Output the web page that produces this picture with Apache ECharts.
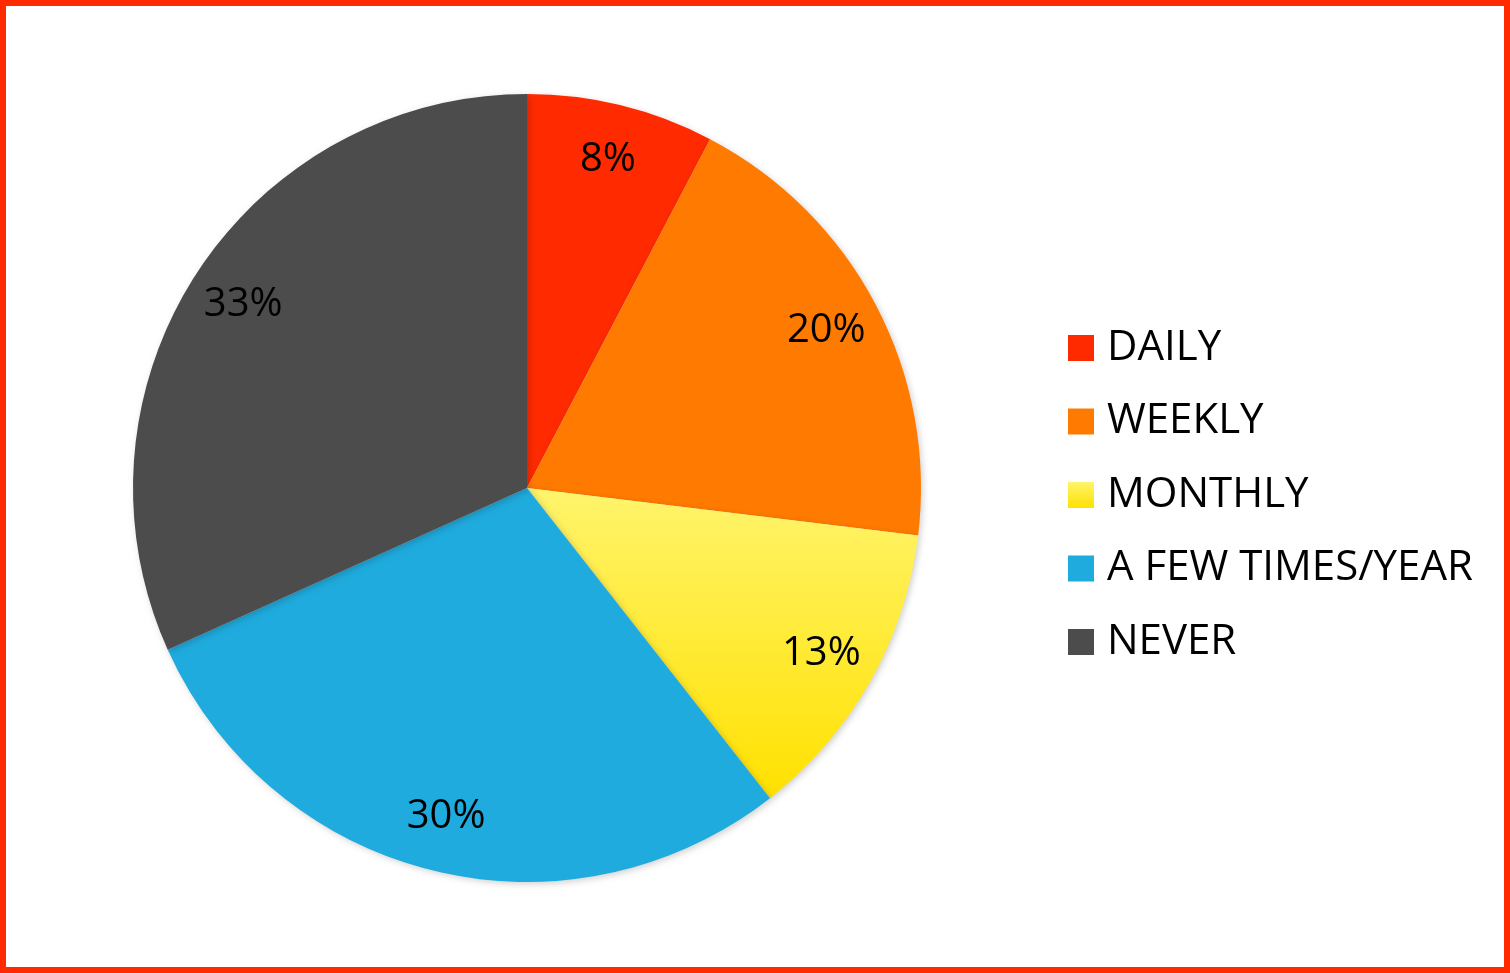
<!DOCTYPE html>
<html>
<head>
<meta charset="utf-8">
<script src="https://cdn.jsdelivr.net/npm/echarts@6/dist/echarts.min.js"></script>
<style>
	html, body { margin: 0; padding: 0; background: #fff; }
	#chart { position: absolute; left: 0; top: 0; width: 1510px; height: 973px; }
	#frame { position: absolute; left: 0; top: 0; width: 1510px; height: 973px; box-sizing: border-box; border: 6px solid #FF2A00; pointer-events: none; }
</style>
</head>
<body>
<div id="chart"></div>
<div id="frame"></div>
<script>
// 数据
var categories = ['DAILY', 'WEEKLY', 'MONTHLY', 'A FEW TIMES/YEAR', 'NEVER'];
var values = [8, 20, 13, 30, 33];
var colors = [
	'#FF2A00',
	'#FF7A00',
	new echarts.graphic.LinearGradient(0, 0, 0, 1, [
		{ offset: 0, color: '#FFF46C' },
		{ offset: 1, color: '#FFE100' }
	]),
	'#1FABDE',
	'#4C4C4C'
];

var pieData = categories.map(function(name, i) {
	return { name: name, value: values[i], itemStyle: { color: colors[i] } };
});
var labelData = categories.map(function(name, i) {
	return { name: name, value: values[i] };
});

var chart = echarts.init(document.getElementById('chart'));

var font = '"Open Sans", "Liberation Sans", sans-serif';

option = {
	animation: false,
	legend: {
		orient: 'vertical',
		left: 1068,
		top: 327,
		padding: 0,
		itemWidth: 26,
		itemHeight: 26,
		itemGap: 31.5,
		icon: 'rect',
		data: categories,
		textStyle: {
			fontFamily: font,
			fontSize: 42,
			lineHeight: 42,
			color: '#000',
			padding: [0, 0, 0, 8]
		}
	},
	series: [ {
		// 饼图本体
		name: 'freq',
		type: 'pie',
		center: [527, 488],
		radius: [0, 394],
		startAngle: 90,
		clockwise: true,
		silent: true,
		label: { show: false },
		labelLine: { show: false },
		itemStyle: {
			shadowBlur: 6,
			shadowColor: 'rgba(0,0,0,0.18)',
			shadowOffsetX: 2,
			shadowOffsetY: 2
		},
		data: pieData
	}, {
		// 只用来放百分比标签（靠外圈）
		name: 'labels',
		type: 'pie',
		center: [527, 488],
		radius: [276, 394],
		startAngle: 90,
		clockwise: true,
		silent: true,
		itemStyle: { color: 'rgba(0,0,0,0)' },
		label: {
			show: true,
			position: 'inside',
			formatter: '{c}%',
			fontFamily: font,
			fontSize: 40,
			color: '#000'
		},
		labelLine: { show: false },
		data: labelData
	} ]
};
chart.setOption(option);
</script>
</body>
</html>
